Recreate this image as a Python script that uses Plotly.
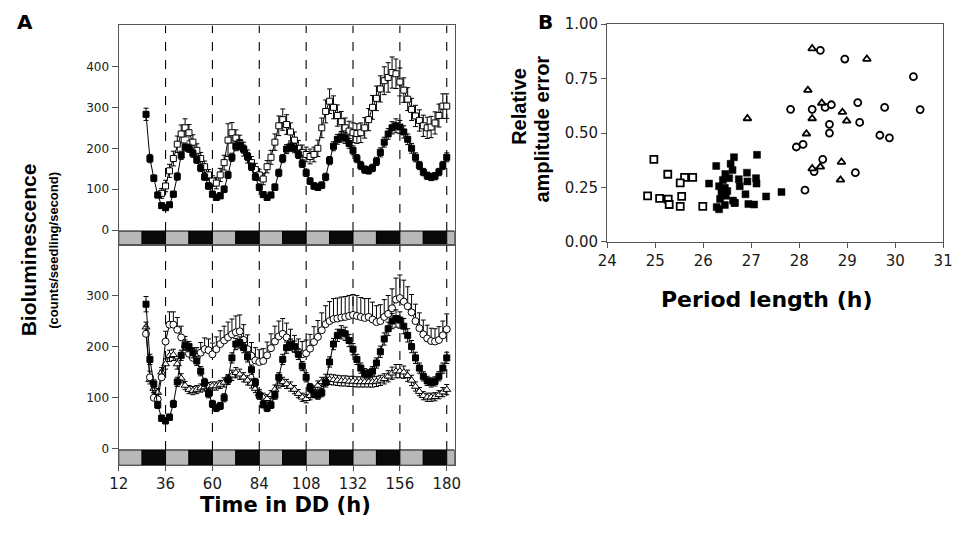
import plotly.graph_objects as go

# ---------------- Panel A data ----------------
time_wt = list(range(26, 181, 2))
wt_lum = [283, 175, 127, 86, 60, 55, 62, 88, 131, 183,
          203, 200, 188, 172, 152, 130, 108, 88, 80, 84,
          100, 135, 178, 205, 208, 198, 180, 155, 130, 105,
          87, 80, 86, 105, 140, 175, 198, 204, 200, 185,
          162, 140, 120, 108, 105, 110, 130, 170, 205, 222,
          228, 225, 212, 195, 175, 158, 148, 146, 152, 168,
          190, 215, 235, 250, 255, 252, 240, 222, 200, 178,
          158, 142, 133, 130, 132, 142, 158, 178]
wt_err = [15, 10, 8, 7, 6, 6, 6, 7, 9, 10,
          10, 10, 10, 9, 9, 8, 8, 7, 7, 7,
          8, 9, 10, 11, 11, 10, 10, 9, 8, 8,
          7, 7, 7, 8, 9, 10, 11, 11, 11, 10,
          9, 9, 8, 8, 8, 8, 9, 10, 11, 12,
          13, 13, 12, 11, 10, 10, 9, 9, 9, 10,
          11, 12, 13, 15, 17, 16, 15, 13, 12, 11,
          10, 9, 9, 9, 9, 9, 10, 11]

time_mut1 = list(range(34, 181, 2))
mut1_lum = [90, 108, 145, 175, 210, 235, 250, 238, 215, 195,
            175, 155, 135, 120, 115, 135, 165, 220, 238, 225,
            214, 198, 180, 165, 148, 135, 125, 155, 178, 215,
            255, 270, 258, 240, 220, 200, 190, 185, 180, 185,
            200, 250, 290, 315, 300, 280, 265, 250, 242, 238,
            236, 238, 250, 270, 300, 322, 345, 365, 373, 385,
            382, 362, 342, 320, 295, 279, 268, 255, 250, 252,
            262, 280, 303, 303]
mut1_lum = mut1_lum[:len(time_mut1)]
mut1_err = [12, 14, 16, 18, 20, 22, 22, 20, 18, 16,
            15, 14, 13, 13, 14, 16, 18, 40, 25, 20,
            18, 17, 16, 15, 15, 14, 14, 15, 17, 20,
            24, 26, 24, 22, 20, 19, 18, 18, 18, 18,
            20, 24, 28, 30, 28, 26, 25, 24, 24, 24,
            24, 24, 25, 27, 29, 30, 32, 34, 36, 38,
            36, 34, 30, 28, 27, 26, 26, 26, 26, 26,
            27, 28, 30, 30]

circ_lum = [225, 140, 100, 97, 140, 210, 243, 243, 233, 218,
            200, 186, 178, 180, 188, 195, 193, 185, 195, 205,
            212, 218, 224, 228, 230, 213, 195, 182, 173, 170,
            172, 183, 197, 210, 220, 225, 218, 207, 196, 190,
            185, 187, 196, 209, 219, 232, 244, 250, 254, 255,
            257, 258, 260, 262, 260, 258, 256, 258, 253, 248,
            250, 258, 264, 275, 292, 295, 288, 279, 267, 250,
            236, 224, 216, 211, 210, 213, 222, 234]
circ_err = [15, 12, 10, 10, 14, 20, 25, 25, 24, 22,
            20, 18, 18, 18, 20, 22, 22, 22, 24, 26,
            28, 30, 30, 32, 32, 30, 28, 26, 25, 24,
            24, 26, 28, 30, 30, 30, 28, 27, 26, 25,
            25, 26, 28, 30, 32, 34, 36, 38, 40, 40,
            40, 40, 40, 40, 40, 38, 38, 36, 34, 32,
            32, 34, 36, 38, 42, 45, 42, 38, 35, 33,
            30, 28, 26, 25, 25, 26, 28, 30]

tri_lum = [238, 135, 118, 110, 150, 166, 182, 184, 166, 138,
           124, 116, 114, 116, 119, 121, 122, 123, 123, 126,
           130, 136, 144, 149, 146, 140, 134, 128, 118, 108,
           101, 98, 106, 116, 128, 131, 127, 122, 116, 108,
           101, 98, 104, 114, 124, 131, 136, 136, 135, 134,
           133, 133, 132, 132, 131, 131, 131, 131, 131, 132,
           134, 137, 142, 148, 152, 152, 150, 143, 134, 122,
           112, 104, 101, 101, 102, 106, 111, 116]
tri_err = [10, 8, 8, 8, 9, 10, 11, 11, 10, 9,
           8, 8, 8, 8, 8, 8, 8, 8, 8, 8,
           9, 9, 10, 10, 10, 9, 9, 9, 8, 8,
           8, 8, 8, 9, 9, 9, 9, 9, 8, 8,
           8, 8, 8, 9, 9, 9, 10, 10, 10, 10,
           10, 10, 10, 10, 10, 10, 10, 10, 10, 10,
           10, 10, 11, 12, 13, 13, 12, 11, 10, 9,
           8, 8, 8, 8, 8, 8, 9, 10]

x_ticks_a = [12, 36, 60, 84, 108, 132, 156, 180]
dash_times = [36, 60, 84, 108, 132, 156, 180]
ld_edges = [12, 24, 36, 48, 60, 72, 84, 96, 108, 120, 132, 144, 156, 168, 180, 184]
ld_states = ["day", "night", "day", "night", "day", "night", "day", "night",
             "day", "night", "day", "night", "day", "night", "day"]

# ---------------- Panel B data ----------------
open_sq_period = [24.97, 25.26, 25.61, 25.78, 25.52, 24.84, 25.09, 25.27, 25.29, 25.55, 25.52, 25.99]
open_sq_err = [0.379, 0.311, 0.297, 0.297, 0.271, 0.212, 0.200, 0.197, 0.172, 0.209, 0.163, 0.163]

fill_sq_period = [26.64, 27.12, 26.27, 26.57, 26.61, 26.46, 26.54, 26.12, 26.41, 26.91, 26.74,
                  26.92, 27.10, 27.11, 26.76, 26.33, 26.45, 26.50, 26.38, 26.47, 26.35, 26.88,
                  27.31, 27.63, 26.62, 26.65, 26.45, 26.28, 26.33, 26.94, 27.06, 26.66]
fill_sq_err = [0.389, 0.400, 0.349, 0.359, 0.330, 0.312, 0.293, 0.268, 0.285, 0.318, 0.288,
               0.278, 0.293, 0.268, 0.256, 0.256, 0.249, 0.234, 0.226, 0.212, 0.197, 0.219,
               0.209, 0.229, 0.190, 0.179, 0.170, 0.160, 0.150, 0.174, 0.172, 0.180]

tri_period = [28.27, 29.41, 28.18, 26.92, 28.47, 28.90, 28.27, 28.99, 28.15, 28.88, 28.27, 28.44, 28.86]
tri_amp_err = [0.888, 0.840, 0.697, 0.567, 0.638, 0.596, 0.567, 0.556, 0.497, 0.367, 0.337, 0.345, 0.285]

circ_period = [28.44, 28.95, 30.38, 27.82, 28.27, 28.54, 28.67, 29.22, 29.78, 30.52, 28.63,
               28.63, 29.26, 29.68, 29.88, 27.94, 28.08, 28.49, 28.31, 29.17, 28.12]
circ_amp_err = [0.880, 0.840, 0.759, 0.609, 0.609, 0.618, 0.630, 0.640, 0.618, 0.608, 0.540,
                0.500, 0.549, 0.490, 0.478, 0.436, 0.448, 0.379, 0.323, 0.318, 0.238]

# ---------------- Figure ----------------
W, H = 961, 540
TXT = "#1a1a1a"
AX = "#555555"
fig = go.Figure()


def eb(arr, up_only=False):
    d = dict(type="data", array=arr, color="black", thickness=1, width=2.5)
    if up_only:
        d["symmetric"] = False
        d["arrayminus"] = [0] * len(arr)
    return d


def series(x, y, err, symbol, fill, xa, ya, size=6, up_only=False):
    fig.add_trace(go.Scatter(
        x=x, y=y, mode="lines+markers", xaxis=xa, yaxis=ya,
        line=dict(color="black", width=1),
        marker=dict(symbol=symbol, size=size, color=fill, line=dict(color="black", width=1)),
        error_y=eb(err, up_only), showlegend=False, hoverinfo="skip"))


# top panel
series(time_mut1, mut1_lum, mut1_err, "square", "white", "x", "y")
series(time_wt, wt_lum, wt_err, "square", "black", "x", "y")
# bottom panel
series(time_wt, tri_lum, tri_err, "triangle-up", "white", "x2", "y2", size=7)
series(time_wt, circ_lum, circ_err, "circle", "white", "x2", "y2", size=7, up_only=True)
series(time_wt, wt_lum, wt_err, "square", "black", "x2", "y2")


def pts(x, y, symbol, fill, lw=1.8):
    fig.add_trace(go.Scatter(
        x=x, y=y, mode="markers", xaxis="x3", yaxis="y3",
        marker=dict(symbol=symbol, size=7, color=fill, line=dict(color="black", width=lw)),
        showlegend=False, hoverinfo="skip"))


pts(open_sq_period, open_sq_err, "square", "white")
pts(fill_sq_period, fill_sq_err, "square", "black", lw=0.5)
pts(circ_period, circ_amp_err, "circle", "white")
pts(tri_period, tri_amp_err, "triangle-up", "white")

shapes = []
for xa, ya, bar_lo, top in (("x", "y", -37, 500), ("x2", "y2", -32, 398)):
    for i, st in enumerate(ld_states):
        shapes.append(dict(type="rect", xref=xa, yref=ya,
                           x0=ld_edges[i], x1=ld_edges[i + 1], y0=bar_lo, y1=-2,
                           fillcolor="#b8b8b8" if st == "day" else "#0a0a0a",
                           line=dict(color="black", width=1), layer="below"))
    for t in dash_times:
        shapes.append(dict(type="line", xref=xa, yref=ya, x0=t, x1=t, y0=-2, y1=top,
                           line=dict(color="black", width=1.1, dash="dash"), layer="below"))

axis_common = dict(showgrid=False, zeroline=False, showline=True, linecolor=AX, linewidth=1.3,
                   mirror=True, ticks="outside", tickcolor=AX, tickwidth=1.3,
                   tickfont=dict(family="DejaVu Sans", size=12, color=TXT))

dom_x_a = [111 / W, 454 / W]
fig.update_layout(
    width=W, height=H, margin=dict(l=0, r=0, t=0, b=0),
    paper_bgcolor="white", plot_bgcolor="white", showlegend=False,
    xaxis=dict(axis_common, domain=dom_x_a, range=[12, 184], anchor="y",
               showticklabels=False, ticks=""),
    yaxis=dict(axis_common, domain=[0.5472, 0.9685], range=[-37, 500], anchor="x",
               tickvals=[0, 100, 200, 300, 400], ticklen=6),
    xaxis2=dict(axis_common, domain=dom_x_a, range=[12, 184], anchor="y2",
                tickvals=x_ticks_a, ticklen=5,
                tickfont=dict(family="DejaVu Sans", size=15, color=TXT)),
    yaxis2=dict(axis_common, domain=[0.1259, 0.5472], range=[-32, 398], anchor="x2",
                tickvals=[0, 100, 200, 300], ticklen=6),
    xaxis3=dict(axis_common, domain=[610 / W, 953 / W], range=[24, 31], anchor="y3",
                tickvals=[24, 25, 26, 27, 28, 29, 30, 31], ticklen=5,
                tickfont=dict(family="DejaVu Sans", size=15, color=TXT)),
    yaxis3=dict(axis_common, domain=[1 - 241 / H, 1 - 15.7 / H], range=[0, 1], anchor="x3",
                tickvals=[0, 0.25, 0.5, 0.75, 1.0],
                ticktext=["0.00", "0.25", "0.50", "0.75", "1.00"], ticklen=5,
                tickfont=dict(family="DejaVu Sans", size=15, color=TXT)),
    shapes=shapes,
)


def label(text, x, y, size, family="DejaVu Sans", angle=0, bold=True):
    fig.add_annotation(text=f"<b>{text}</b>" if bold else text, xref="paper", yref="paper",
                       x=x / W, y=1 - y / H, xanchor="center", yanchor="middle",
                       showarrow=False, textangle=angle,
                       font=dict(family=family, size=size, color="black"))


label("A", 15, 13, 20)
label("B", 547, 13, 20)
label("Bioluminescence", 19, 249, 21, family="Liberation Sans", angle=-90)
label("(counts/seedling/second)", 45, 250, 13, family="Liberation Sans", angle=-90)
label("Time in DD (h)", 281, 513, 21)
label("Relative", 519, 101, 20, family="Liberation Sans", angle=-90)
label("amplitude error", 543, 124, 20, family="Liberation Sans", angle=-90)
label("Period length (h)", 773, 300, 22)

fig.write_html("out.html", config={"displayModeBar": False},
               post_script="document.body.style.margin='0';document.body.style.padding='0';"
                           "document.documentElement.style.overflow='hidden';")
